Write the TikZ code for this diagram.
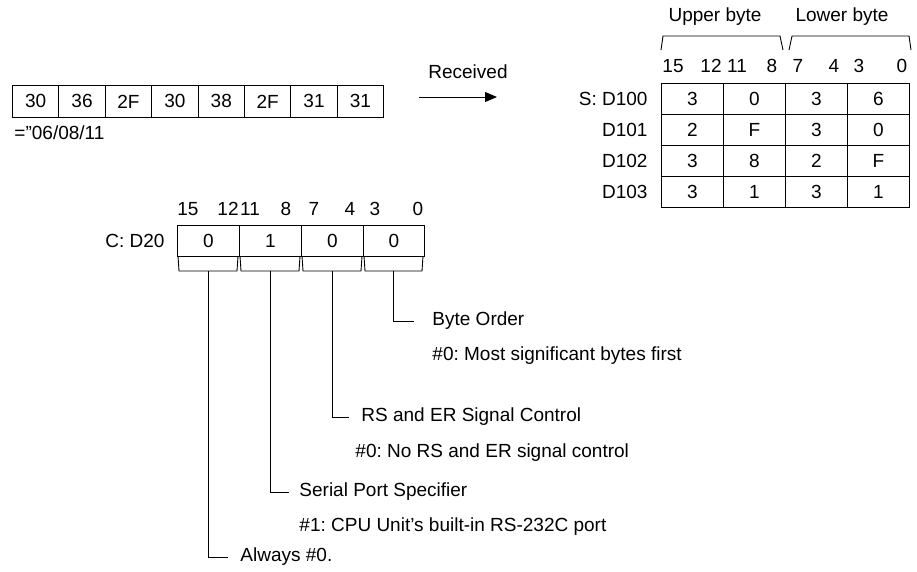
\documentclass[tikz,border=0pt]{standalone}
\usepackage{fontspec}
\setmainfont{Liberation Sans}
\usetikzlibrary{arrows.meta}
\frenchspacing
\begin{document}
\begin{tikzpicture}[x=1pt,y=-1pt,line width=0.9pt,
  txt/.style={font=\fontsize{19}{21}\selectfont,inner sep=0pt},
  lead/.style={line width=0.8pt}]
\useasboundingbox (0,0) rectangle (917,571);
% top row
\foreach \v [count=\i] in {30,36,2F,30,38,2F,31,31}
  \node[draw,minimum width=46.4pt,minimum height=32pt,inner sep=0pt,font=\fontsize{19}{21}\selectfont,anchor=north west] (t\i) at ({12+(\i-1)*46.4},85) {\v};
\node[txt,anchor=west] (eq) at (14,133) {="06/08/11};
\node[txt] (rec) at (468,72) {Received};
\coordinate (a1) at (419,97); \coordinate (a2) at (497,97);
\draw[-{Triangle[length=12pt,width=10pt]}] (a1) -- (a2);
% table
\foreach \r/\lab/\a/\b/\c/\d [count=\j] in {1/S: D100/3/0/3/6,2/D101/2/F/3/0,3/D102/3/8/2/F,4/D103/3/1/3/1}{
  \node[txt,anchor=east] (L\j) at (648,{83+(\j-0.5)*31}) {\lab};
  \foreach \v [count=\k] in {\a,\b,\c,\d}
    \node[draw,minimum width=62pt,minimum height=31pt,inner sep=0pt,font=\fontsize{19}{21}\selectfont,anchor=north west] (c\j\k) at ({661+(\k-1)*62},{83+(\j-1)*31}) {\v};
}
\foreach \t/\x in {15/673,12/711,11/737,8/772,7/798,4/834,3/859,0/902}
  \node[txt] (tb\t) at (\x,66) {\t};
\node[txt] (ub) at (715,17) {Upper byte};
\node[txt] (lb) at (842,17) {Lower byte};
\coordinate (u1) at (661,50); \coordinate (u2) at (663,36); \coordinate (u3) at (780,36); \coordinate (u4) at (783,50);
\draw (u1) -- (u2) -- (u3) -- (u4);
\coordinate (l1) at (789,50); \coordinate (l2) at (792,36); \coordinate (l3) at (909,36); \coordinate (l4) at (911,50);
\draw (l1) -- (l2) -- (l3) -- (l4);
% C: D20
\node[txt,anchor=east] (cd) at (165,241) {C: D20};
\foreach \v/\xa/\xb [count=\k] in {0/177/239,1/239/301,0/301/363,0/363/424}{
  \node[draw,minimum width={\xb-\xa},minimum height=31pt,inner sep=0pt,font=\fontsize{19}{21}\selectfont,anchor=north west] (d\k) at (\xa,225) {\v};
  \draw (\xa+1,256) -- (\xa+2,271) -- (\xb-2,271) -- (\xb-1,256);
  \coordinate (p\k) at ({(\xa+\xb)/2},271);
}
\foreach \t/\x in {15/188,12/228,11/250,8/286,7/314,4/350,3/375,0/418}
  \node[txt] (cb\t) at (\x,209) {\t};
% leaders
\node[txt,anchor=west] (n4) at (432,321) {Byte Order};
\node[txt,anchor=west] (n4d) at (432,356) {\#0: Most significant bytes first};
\node[txt,anchor=west] (n3) at (361,417) {RS and ER Signal Control};
\node[txt,anchor=west] (n3d) at (355,453) {\#0: No RS and ER signal control};
\node[txt,anchor=west] (n2) at (299,492) {Serial Port Specifier};
\node[txt,anchor=west] (n2d) at (299,527) {\#1: CPU Unit’s built-in RS-232C port};
\node[txt,anchor=west] (n1) at (240,557) {Always \#0.};
\draw[lead] (p4) |- ([xshift=-18pt]n4.west);
\draw[lead] (p3) |- ([xshift=-12pt]n3.west);
\draw[lead] (p2) |- ([xshift=-10pt]n2.west);
\draw[lead] (p1) |- ([xshift=-12pt]n1.west);
\end{tikzpicture}
\end{document}
